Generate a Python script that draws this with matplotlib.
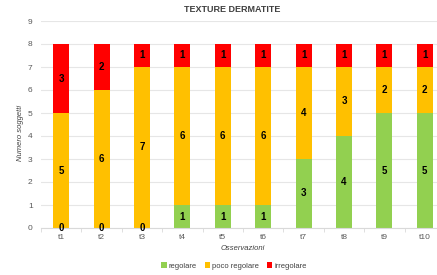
import numpy as np
import matplotlib
matplotlib.use("Agg")
import matplotlib.pyplot as plt

# data
osservazioni = ['t1', 't2', 't3', 't4', 't5', 't6', 't7', 't8', 't9', 't10']
regolare = [0, 0, 0, 1, 1, 1, 3, 4, 5, 5]
poco_regolare = [5, 6, 7, 6, 6, 6, 4, 3, 2, 2]
irregolare = [3, 2, 1, 1, 1, 1, 1, 1, 1, 1]

series = [('regolare', regolare, '#92D050'),
          ('poco regolare', poco_regolare, '#FFC000'),
          ('irregolare', irregolare, '#FF0000')]

plt.rcParams['font.family'] = ['Liberation Sans', 'DejaVu Sans']

W, H = 437, 275
fig = plt.figure(figsize=(W / 100, H / 100), dpi=100)
# axes in pixel coords: left 41, right 445, bottom y=228, top y=21
ax = fig.add_axes([41 / W, (H - 228) / H, (445 - 41) / W, (228 - 21) / H])

x = np.arange(len(osservazioni))
bottom = np.zeros(len(x))
for name, vals, col in series:
    vals = np.array(vals, dtype=float)
    ax.bar(x, vals, 0.4, bottom=bottom, color=col, label=name, zorder=2)
    for xi, b, v in zip(x, bottom, vals):
        ax.text(xi, b + v / 2, '%d' % v, ha='center', va='center',
                fontsize=7, fontweight='bold', color='black', zorder=3)
    bottom += vals

ax.set_xlim(-0.5, len(x) - 0.5)
ax.set_ylim(0, 9)
ax.set_yticks(range(10))
ax.set_xticks(x)
ax.set_xticklabels(osservazioni)
ax.set_xticks(np.arange(-0.5, len(x)), minor=True)
ax.tick_params(axis='x', which='major', length=0, labelsize=6, colors='#595959', pad=4)
ax.tick_params(axis='x', which='minor', length=3, color='#D9D9D9')
ax.tick_params(axis='y', length=0, labelsize=6, colors='#595959', pad=6)
ax.grid(axis='y', color='#E6E6E6', linewidth=0.8, zorder=0)
for s in ['top', 'right', 'left']:
    ax.spines[s].set_visible(False)
ax.spines['bottom'].set_color('#D9D9D9')

fig.text(232 / W, 1 - 9 / H, 'TEXTURE DERMATITE', ha='center', va='center',
         fontsize=6.5, fontweight='bold', color='#404040')
fig.text(20 / W, 1 - 133 / H, 'Numero soggetti', rotation=90, ha='center',
         va='center', fontsize=5.5, style='italic', color='#404040')
fig.text(243 / W, 1 - 248 / H, 'Osservazioni', ha='center', va='center',
         fontsize=5.5, style='italic', color='#404040')

handles, labels = ax.get_legend_handles_labels()
fig.legend(handles, labels, loc='center', bbox_to_anchor=(234 / W, 1 - 266 / H),
           ncol=3, frameon=False, fontsize=5.5, handlelength=0.7, handleheight=0.7,
           handletextpad=0.3, columnspacing=1.0, labelcolor='#404040')

fig.savefig('out.png', dpi=100)
